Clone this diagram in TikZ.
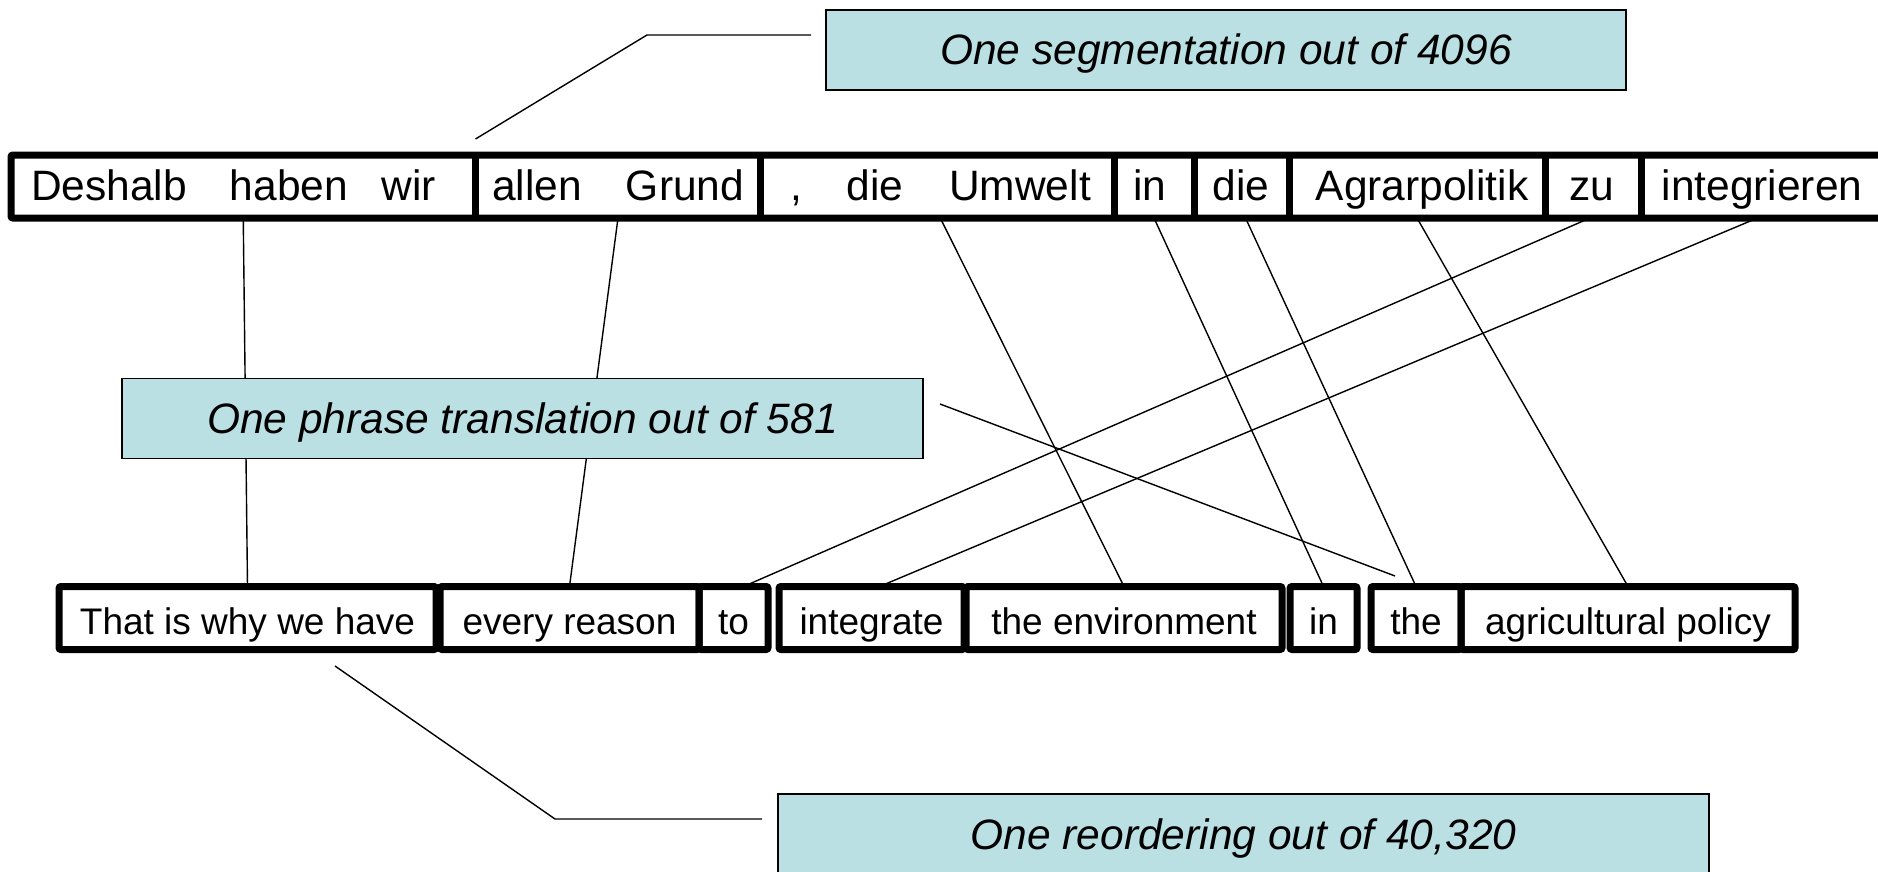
\documentclass[tikz,border=0pt]{standalone}
\usepackage{fontspec}
\setmainfont{Liberation Sans}
\definecolor{notefill}{RGB}{186,224,228}
\begin{document}
\begin{tikzpicture}[x=0.5pt,y=-0.5pt,
  seg/.style={inner sep=0pt, outer sep=0pt, minimum height=31.5pt},
  rowline/.style={line width=3.5pt, rounded corners=1pt},
  deword/.style={anchor=base, inner sep=0pt, font=\fontsize{21.25pt}{25pt}\selectfont},
  enbox/.style={draw, line width=3.5pt, rounded corners=1pt, inner sep=0pt, outer sep=0pt,
    minimum height=31.5pt, text height=16pt, text depth=0pt,
    font=\fontsize{18.5pt}{22pt}\selectfont},
  link/.style={line width=0.7pt},
  note/.style={draw, line width=0.8pt, fill=notefill, inner sep=0pt, outer sep=0pt,
    minimum height=40pt, text height=15pt, text depth=0pt,
    font=\fontsize{21.25pt}{25pt}\selectfont\itshape},
]
\useasboundingbox (0,0) rectangle (1878,872);
\clip (0,0) rectangle (1878,872);

% German sentence: segments of the source
\node[seg, minimum width=232.25pt] (s1) at (243.25,186.5) {};
\node[seg, minimum width=142.5pt]  (s2) at (618,186.5) {};
\node[seg, minimum width=176.75pt] (s3) at (937.25,186.5) {};
\node[seg, minimum width=40pt]     (s4) at (1154,186.5) {};
\node[seg, minimum width=47.5pt]   (s5) at (1241.5,186.5) {};
\node[seg, minimum width=128pt]    (s6) at (1417,186.5) {};
\node[seg, minimum width=48pt]     (s7) at (1593,186.5) {};
\node[seg, minimum width=124.5pt]  (s8) at (1765.5,186.5) {};
\draw[rowline] (s1.north west) rectangle (s8.south east);
\foreach \s in {s1,s2,s3,s4,s5,s6,s7}
  \draw[line width=3.5pt] (\s.north east) -- (\s.south east);

% German words
\node[deword] (w1)  at (109,200)  {Deshalb};
\node[deword] (w2)  at (289,200)  {haben};
\node[deword] (w3)  at (409,200)  {wir};
\node[deword] (w4)  at (537,200)  {allen};
\node[deword] (w5)  at (685,200)  {Grund};
\node[deword] (w6)  at (796,200)  {,};
\node[deword] (w7)  at (875,200)  {die};
\node[deword] (w8)  at (1020,200) {Umwelt};
\node[deword] (w9)  at (1150,200) {in};
\node[deword] (w10) at (1241,200) {die};
\node[deword] (w11) at (1422,200) {Agrarpolitik};
\node[deword] (w12) at (1592,200) {zu};
\node[deword] (w13) at (1762,200) {integrieren};

% English phrases
\node[enbox, minimum width=188.5pt] (e1) at (247.5,618) {That is why we have};
\node[enbox, minimum width=129.5pt] (e2) at (569.5,618) {every reason};
\node[enbox, minimum width=34.5pt]  (e3) at (733.5,618) {to};
\node[enbox, minimum width=92.5pt]  (e4) at (871.5,618) {integrate};
\node[enbox, minimum width=158pt]   (e5) at (1124,618)  {the environment};
\node[enbox, minimum width=33.5pt]  (e6) at (1323.5,618) {in};
\node[enbox, minimum width=45pt]    (e7) at (1416,618)  {the};
\node[enbox, minimum width=167pt]   (e8) at (1628,618)  {agricultural policy};

% alignment links
\draw[link] (s1.south) -- (e1.north);
\draw[link] (s2.south) -- (e2.north);
\draw[link] ([xshift=1.5pt]s3.south) -- (e5.north);
\draw[link] (s4.south) -- (e6.north);
\draw[link] ([xshift=2pt]s5.south) -- (e7.north);
\draw[link] (s6.south) -- (e8.north);
\draw[link] ([xshift=-1.5pt]s7.south) -- ([xshift=5pt]e3.north);
\draw[link] ([xshift=-4pt]s8.south) -- ([xshift=4pt]e4.north);

% annotations
\node[note, minimum width=400pt] (nseg) at (1226,50) {One segmentation out of 4096};
\node[note, minimum width=400.5pt] (nphr) at (522.5,418.5) {One phrase translation out of 581};
\node[note, minimum width=465.5pt] (nreo) at (1243.5,834) {One reordering out of 40,320};

\coordinate (kseg) at (647,35);
\coordinate (kreo) at (555,819);
\draw[link] ([yshift=8pt]s1.north east) -- (kseg) -- ([xshift=-7.5pt,yshift=7.5pt]nseg.west);
\draw[link] ([xshift=8.5pt,yshift=7.25pt]nphr.east) -- ([xshift=-10.5pt,yshift=5.25pt]e7.north);
\draw[link] ([xshift=43.75pt,yshift=-8.25pt]e1.south) -- (kreo) -- ([xshift=-8pt,yshift=7.5pt]nreo.west);
\end{tikzpicture}
\end{document}
